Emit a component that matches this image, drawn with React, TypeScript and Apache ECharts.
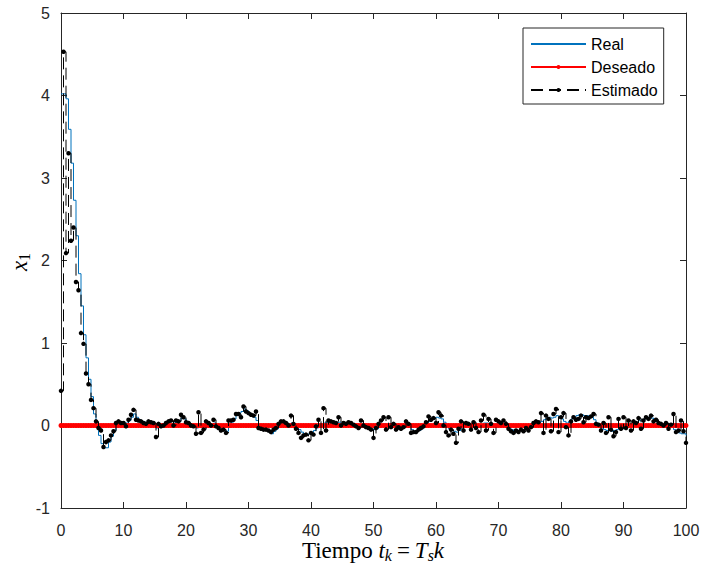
import React, { useEffect, useRef } from "react";
import * as echarts from "echarts";

// Sampling period (time between samples)
const TS = 0.4;

// Real state x1 (blue stairs), one value per sample k = 0..250
const realValues = [
  4.02, 4.02, 3.96, 3.59, 3.18, 2.73, 2.30, 1.84, 1.45, 1.10, 0.82, 0.56, 0.35, 0.14, 0.00, -0.12, -0.22, -0.27, -0.27, -0.20, -0.13, -0.06, -0.02, 0.02, 0.03,
  0.02, 0.03, 0.06, 0.10, 0.14, 0.10, 0.07, 0.05, 0.04, 0.03, 0.03, 0.04, 0.02, -0.03, -0.01, 0.00, 0.00, 0.02, 0.04, 0.05, 0.03, 0.04, 0.05, 0.09, 0.08,
  0.05, 0.03, 0.01, -0.01, -0.03, 0.02, -0.02, -0.04, 0.00, 0.02, 0.01, 0.03, 0.01, -0.02, -0.04, -0.05, -0.07, -0.02, 0.04, 0.08, 0.12, 0.15, 0.17, 0.20, 0.18,
  0.15, 0.13, 0.10, 0.06, 0.01, -0.02, -0.04, -0.06, -0.08, -0.10, -0.07, -0.04, 0.00, 0.03, 0.04, 0.03, 0.02, 0.03, 0.01, -0.02, -0.05, -0.08, -0.10, -0.11, -0.10,
  -0.08, -0.06, -0.03, 0.00, 0.01, 0.03, 0.04, 0.05, 0.04, 0.03, 0.03, 0.04, 0.02, 0.01, 0.02, 0.03, 0.02, 0.00, -0.01, -0.02, 0.00, 0.01, -0.01, -0.03, -0.04,
  -0.05, -0.04, -0.02, 0.00, 0.02, 0.01, 0.02, 0.00, -0.01, -0.02, -0.03, -0.03, -0.02, 0.00, -0.02, -0.05, -0.07, -0.07, -0.06, -0.04, -0.01, 0.02, 0.05, 0.07, 0.09,
  0.10, 0.09, 0.08, 0.04, 0.00, -0.04, -0.06, -0.07, -0.08, -0.06, -0.04, -0.02, 0.00, 0.01, -0.01, -0.01, 0.00, -0.02, 0.00, 0.03, 0.03, 0.02, 0.00, -0.02, -0.02,
  0.00, 0.01, 0.01, 0.00, -0.03, -0.05, -0.07, -0.07, -0.06, -0.06, -0.05, -0.04, -0.03, -0.01, 0.01, 0.03, 0.04, 0.05, 0.07, 0.09, 0.10, 0.09, 0.10, 0.12, 0.11,
  0.08, 0.05, 0.03, 0.05, 0.08, 0.10, 0.12, 0.13, 0.13, 0.12, 0.12, 0.11, 0.10, 0.07, 0.03, 0.00, -0.03, -0.05, -0.06, -0.06, -0.07, -0.06, -0.05, -0.04, -0.04,
  -0.02, 0.00, 0.01, 0.01, 0.02, 0.04, 0.06, 0.07, 0.08, 0.10, 0.10, 0.09, 0.07, 0.05, 0.03, 0.02, 0.01, 0.00, -0.01, -0.02, -0.05, -0.07, -0.09, -0.10, -0.10, -0.12,
];

// Estimated x1 (black dashed stairs with dots)
const estimatedValues = [
  0.42, 4.53, 2.09, 3.30, 2.24, 2.40, 1.74, 1.64, 1.12, 0.99, 0.63, 0.50, 0.31, 0.21, 0.05, -0.03, -0.06, -0.26, -0.20, -0.18, -0.12, -0.07, 0.03, 0.05, 0.03,
  0.03, -0.01, 0.07, 0.13, 0.19, 0.07, 0.06, 0.05, 0.03, 0.02, 0.05, 0.04, 0.03, -0.14, 0.02, -0.01, 0.00, 0.03, 0.05, 0.06, 0.00, 0.06, 0.05, 0.13, 0.10,
  0.04, 0.03, 0.00, -0.01, -0.10, 0.16, -0.09, -0.05, 0.05, 0.03, 0.00, 0.07, -0.01, -0.03, -0.06, -0.05, -0.09, 0.06, 0.06, 0.07, 0.14, 0.14, 0.10, 0.23, 0.17,
  0.15, 0.13, 0.12, 0.17, -0.03, -0.04, -0.05, -0.05, -0.06, -0.08, -0.05, -0.03, 0.02, 0.05, 0.05, 0.03, 0.00, 0.12, 0.02, -0.04, -0.09, -0.15, -0.12, -0.11, -0.18,
  -0.09, -0.11, -0.01, 0.07, -0.09, 0.21, -0.06, 0.06, 0.05, 0.04, 0.03, 0.10, 0.00, 0.03, 0.02, 0.04, 0.03, 0.01, -0.01, -0.03, 0.06, 0.00, -0.02, -0.03, -0.05,
  -0.15, -0.03, 0.02, 0.06, 0.10, -0.05, 0.10, -0.02, 0.02, -0.05, -0.02, -0.04, -0.02, 0.05, 0.02, -0.09, -0.08, -0.08, -0.05, -0.03, -0.01, 0.04, 0.11, 0.07, 0.09,
  0.03, 0.16, 0.12, 0.00, -0.08, -0.12, -0.05, -0.10, -0.21, -0.04, 0.05, -0.06, 0.03, 0.02, -0.05, 0.04, -0.03, -0.08, 0.06, 0.13, -0.06, 0.08, 0.02, -0.09, 0.07,
  0.05, 0.03, 0.06, 0.02, -0.04, -0.07, -0.09, -0.06, -0.08, -0.05, -0.07, -0.03, -0.06, -0.02, 0.03, 0.05, 0.04, 0.15, -0.09, 0.12, 0.08, -0.07, 0.14, 0.20, -0.08,
  0.10, 0.15, -0.02, -0.12, 0.05, 0.10, 0.07, 0.08, 0.12, 0.04, 0.10, 0.09, 0.11, 0.14, 0.02, 0.01, -0.06, 0.03, -0.09, 0.10, -0.05, -0.13, -0.08, 0.08, -0.04,
  0.10, -0.03, 0.06, -0.06, 0.05, 0.03, 0.09, -0.04, 0.06, 0.10, 0.08, 0.12, 0.05, 0.07, 0.03, 0.02, 0.00, 0.03, -0.04, 0.01, 0.14, -0.08, -0.06, 0.06, -0.07, -0.21,
];

// Desired x1 (red): constant zero reference
const desiredValues: number[] = new Array(realValues.length).fill(0);

// Sample times t_k = Ts * k
const timeStamps = realValues.map((_, k) => Math.round(k * TS * 10) / 10);

const seriesNames = ["Real", "Deseado", "Estimado"];

export default function App() {
  const ref = useRef<HTMLDivElement>(null);

  useEffect(() => {
    document.body.style.margin = "0";
    if (!ref.current) return;
    const chart = echarts.init(ref.current, null, { renderer: "svg" });
    const pair = (vals: number[]) => timeStamps.map((t, i) => [t, vals[i]]);
    const axisColor = "#262626";
    const sans = "'Liberation Sans', Arial, Helvetica, sans-serif";
    const serif = "'Liberation Serif', 'Times New Roman', serif";

    const baseAxis = {
      axisLine: { show: true, onZero: false, lineStyle: { color: axisColor, width: 1 } },
      axisTick: { show: true, inside: true, length: 6, lineStyle: { color: axisColor, width: 1 } },
      splitLine: { show: false },
    };

    const mathRich = {
      r: { fontSize: 23, fontFamily: serif, color: "#000", lineHeight: 26, verticalAlign: "middle" },
      i: { fontSize: 23, fontFamily: serif, fontStyle: "italic", color: "#000", lineHeight: 26, verticalAlign: "middle" },
      eq: { fontSize: 23, fontFamily: serif, color: "#000", lineHeight: 26, verticalAlign: "middle", padding: [0, 5, 0, 5] },
      s: { fontSize: 16, fontFamily: serif, fontStyle: "italic", color: "#000", lineHeight: 26, verticalAlign: "bottom" },
      n: { fontSize: 16, fontFamily: serif, color: "#000", lineHeight: 26, verticalAlign: "bottom" },
    };

    chart.setOption({
      animation: false,
      backgroundColor: "#ffffff",
      grid: { left: 61, right: 18, top: 13, bottom: 63 },
      xAxis: [
        {
          type: "value", min: 0, max: 100, interval: 10, position: "bottom",
          ...baseAxis,
          axisLabel: { color: axisColor, fontSize: 16, fontFamily: sans, margin: 14 },
        },
        {
          type: "value", min: 0, max: 100, interval: 10, position: "top",
          ...baseAxis,
          axisLabel: { show: false },
        },
      ],
      yAxis: [
        {
          type: "value", min: -1, max: 5, interval: 1, position: "left",
          ...baseAxis,
          axisLabel: { color: axisColor, fontSize: 16, fontFamily: sans, margin: 11 },
        },
        {
          type: "value", min: -1, max: 5, interval: 1, position: "right",
          ...baseAxis,
          axisLabel: { show: false },
        },
      ],
      legend: {
        orient: "vertical",
        left: 523,
        top: 28,
        itemWidth: 55,
        itemHeight: 5,
        itemGap: 7,
        padding: [8, 6, 6, 7],
        backgroundColor: "#ffffff",
        borderColor: axisColor,
        borderWidth: 1,
        borderRadius: 0,
        textStyle: { fontSize: 16, fontFamily: sans, color: "#000" },
        data: [
          { name: seriesNames[0], itemStyle: { color: "rgba(0,0,0,0)", borderWidth: 0 } },
          { name: seriesNames[1] },
          { name: seriesNames[2] },
        ],
      },
      graphic: [
        {
          type: "text",
          x: 373,
          y: 550,
          style: {
            text: "{r|Tiempo }{i|t}{s|k}{eq|=}{i|T}{s|s}{i|k}",
            rich: mathRich,
            align: "center",
            verticalAlign: "middle",
          },
        },
        {
          type: "text",
          x: 19,
          y: 262,
          rotation: Math.PI / 2,
          style: {
            text: "{i|x}{n|1}",
            rich: mathRich,
            align: "center",
            verticalAlign: "middle",
          },
        },
      ],
      series: [
        {
          name: seriesNames[0],
          type: "line",
          step: "end",
          data: pair(realValues),
          symbol: "none",
          lineStyle: { color: "#0072BD", width: 1 },
          itemStyle: { color: "#0072BD" },
          z: 2,
        },
        {
          name: seriesNames[1],
          type: "line",
          data: pair(desiredValues),
          symbol: "circle",
          symbolSize: 5,
          lineStyle: { color: "#FF0000", width: 1 },
          itemStyle: { color: "#FF0000", borderWidth: 0 },
          z: 3,
        },
        {
          name: seriesNames[2],
          type: "line",
          step: "end",
          data: pair(estimatedValues),
          symbol: "circle",
          symbolSize: 4.5,
          lineStyle: { color: "#000000", width: 1, type: [12, 6] },
          itemStyle: { color: "#000000", borderWidth: 0 },
          z: 4,
        },
      ],
    });

    return () => chart.dispose();
  }, []);

  return <div ref={ref} style={{ width: 704, height: 571 }} />;
}
